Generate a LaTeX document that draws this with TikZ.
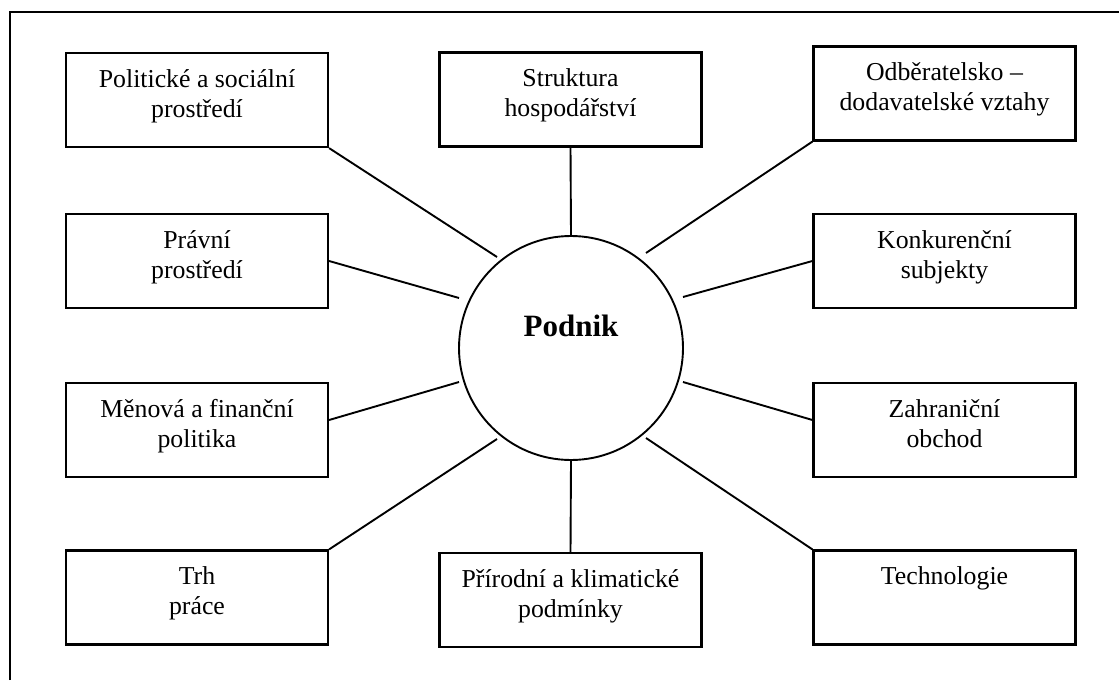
\documentclass[tikz,border=0pt]{standalone}
\usepackage{fontspec}
\setmainfont{Liberation Serif}
\begin{document}
\begin{tikzpicture}[x=1pt,y=-1pt,
  factor/.style={draw, line width=2.2pt, minimum width=262pt, minimum height=94pt,
    inner sep=0pt,
    label={[anchor=north, yshift=-14pt, inner sep=0pt, align=center,
            font=\fontsize{25.8}{30}\selectfont]north:{\strut #1}}},
  hub/.style={draw, circle, line width=1.9pt, minimum size=224pt, inner sep=0pt},
  link/.style={line width=1.9pt}]
\useasboundingbox (0,0) rectangle (1119,680);

% frame
\draw[line width=2.4pt] (10,680) -- (10,12) -- (1119,12);

% centre
\node[hub, label={[yshift=22.5pt, inner sep=0pt,
      font=\bfseries\fontsize{31}{36}\selectfont]center:Podnik}] (c) at (571,348) {};

% surrounding factors
\node[factor={Politické a sociální\\prostředí}] (pol) at (197,100) {};
\node[factor={Struktura\\hospodářství}] (str) at (570.5,99.5) {};
\node[factor={Odběratelsko –\\dodavatelské vztahy}] (odb) at (944.5,93.5) {};
\node[factor={Právní\\prostředí}] (pra) at (197,261) {};
\node[factor={Konkurenční\\subjekty}] (kon) at (944.5,261) {};
\node[factor={Měnová a finanční\\politika}] (men) at (197,430) {};
\node[factor={Zahraniční\\obchod}] (zah) at (944.5,430) {};
\node[factor={Trh\\práce}] (trh) at (197,597.5) {};
\node[factor={Přírodní a klimatické\\podmínky}] (pri) at (570.5,600) {};
\node[factor={Technologie}] (tec) at (944.5,597.5) {};

% free ends of the spokes near the circle
\coordinate (ePol) at (497,257);
\coordinate (eOdb) at (646,253);
\coordinate (ePra) at (459,298);
\coordinate (eKon) at (683,297);
\coordinate (eMen) at (459,382);
\coordinate (eZah) at (683,382);
\coordinate (eTrh) at (497,439);
\coordinate (eTec) at (646,438);

% spokes
\draw[link] (pol.south east) -- (ePol);
\draw[link] (str.south) -- (c.north);
\draw[link] (odb.south west) -- (eOdb);
\draw[link] (pra.east) -- (ePra);
\draw[link] (kon.west) -- (eKon);
\draw[link] ([yshift=10pt]men.east) -- (eMen);
\draw[link] ([yshift=10pt]zah.west) -- (eZah);
\draw[link] (trh.north east) -- (eTrh);
\draw[link] (pri.north) -- (c.south);
\draw[link] (tec.north west) -- (eTec);
\end{tikzpicture}
\end{document}
